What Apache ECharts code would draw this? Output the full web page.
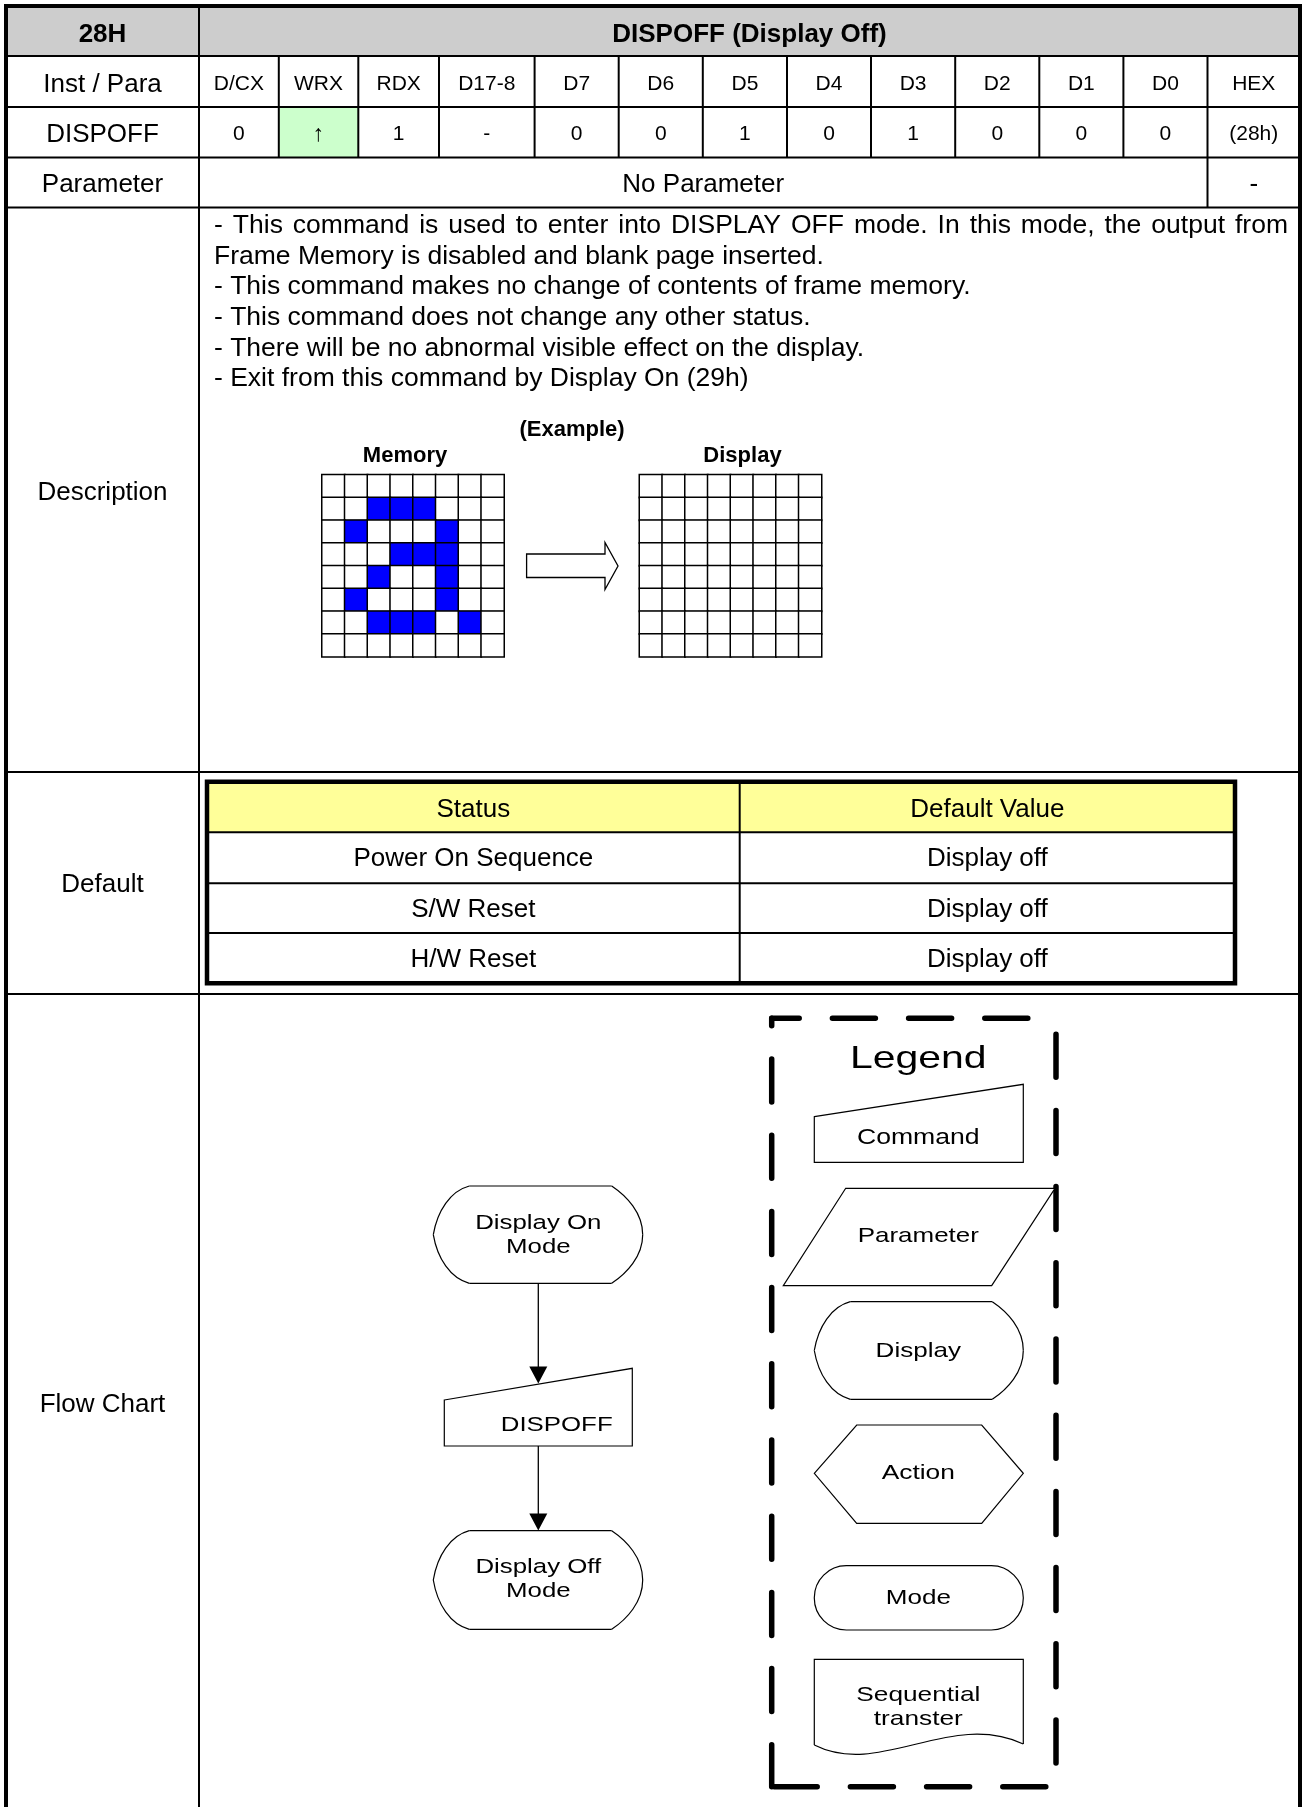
<!DOCTYPE html>
<html><head><meta charset="utf-8">
<script src="https://cdn.jsdelivr.net/npm/echarts@6/dist/echarts.min.js"></script>
<style>html,body{margin:0;padding:0;background:#fff}#c{width:1302px;height:1807px}</style>
</head><body><div id="c"></div>
<script>
// ---------------- data ----------------
const headerCode = '28H';
const headerTitle = 'DISPOFF (Display Off)';
const rowLabels = ['Inst / Para', 'DISPOFF', 'Parameter', 'Description', 'Default', 'Flow Chart'];
const bitHeaders = ['D/CX', 'WRX', 'RDX', 'D17-8', 'D7', 'D6', 'D5', 'D4', 'D3', 'D2', 'D1', 'D0', 'HEX'];
const bitValues = ['0', '\u2191', '1', '-', '0', '0', '1', '0', '1', '0', '0', '0', '(28h)'];
const parameterText = 'No Parameter';
const parameterHex = '-';
const descriptionLines = [
  '- This command is used to enter into DISPLAY OFF mode. In this mode, the output from',
  'Frame Memory is disabled and blank page inserted.',
  '- This command makes no change of contents of frame memory.',
  '- This command does not change any other status.',
  '- There will be no abnormal visible effect on the display.',
  '- Exit from this command by Display On (29h)'
];
const exampleLabels = ['(Example)', 'Memory', 'Display'];
const gridCols = ['0', '1', '2', '3', '4', '5', '6', '7'];
const gridRows = ['0', '1', '2', '3', '4', '5', '6', '7'];
const memoryPattern = [
  [0, 0, 0, 0, 0, 0, 0, 0],
  [0, 0, 1, 1, 1, 0, 0, 0],
  [0, 1, 0, 0, 0, 1, 0, 0],
  [0, 0, 0, 1, 1, 1, 0, 0],
  [0, 0, 1, 0, 0, 1, 0, 0],
  [0, 1, 0, 0, 0, 1, 0, 0],
  [0, 0, 1, 1, 1, 0, 1, 0],
  [0, 0, 0, 0, 0, 0, 0, 0]
];
const displayPattern = [
  [0, 0, 0, 0, 0, 0, 0, 0],
  [0, 0, 0, 0, 0, 0, 0, 0],
  [0, 0, 0, 0, 0, 0, 0, 0],
  [0, 0, 0, 0, 0, 0, 0, 0],
  [0, 0, 0, 0, 0, 0, 0, 0],
  [0, 0, 0, 0, 0, 0, 0, 0],
  [0, 0, 0, 0, 0, 0, 0, 0],
  [0, 0, 0, 0, 0, 0, 0, 0]
];
const defaultHeaders = ['Status', 'Default Value'];
const defaultStatus = ['Power On Sequence', 'S/W Reset', 'H/W Reset'];
const defaultValues = ['Display off', 'Display off', 'Display off'];
const flowSteps = [['Display On', 'Mode'], ['DISPOFF'], ['Display Off', 'Mode']];
const legendTitle = 'Legend';
const legendItems = [['Command'], ['Parameter'], ['Display'], ['Action'], ['Mode'], ['Sequential', 'transter']];

// ---------------- layout ----------------
const FONT = '"Liberation Sans", Arial, Helvetica, sans-serif';
const els = [];
function line(x1, y1, x2, y2, w, extra) {
  els.push({ type: 'line', silent: true, shape: { x1, y1, x2, y2 },
    style: Object.assign({ stroke: '#000', lineWidth: w }, extra || {}) });
}
function rect(x, y, w, h, fill, stroke, lw, r) {
  els.push({ type: 'rect', silent: true, shape: { x, y, width: w, height: h, r: r || 0 },
    style: { fill: fill || null, stroke: stroke || null, lineWidth: lw || 0 } });
}
function poly(points, fill, lw) {
  els.push({ type: 'polygon', silent: true, shape: { points },
    style: { fill: fill, stroke: lw ? '#000' : null, lineWidth: lw || 0 } });
}
function pline(points, lw) {
  els.push({ type: 'polyline', silent: true, shape: { points }, style: { fill: null, stroke: '#000', lineWidth: lw } });
}
function bez(x1, y1, c1x, c1y, c2x, c2y, x2, y2, lw) {
  els.push({ type: 'bezierCurve', silent: true,
    shape: { x1, y1, cpx1: c1x, cpy1: c1y, cpx2: c2x, cpy2: c2y, x2, y2 },
    style: { fill: null, stroke: '#000', lineWidth: lw || 1.2 } });
}
function text(t, x, y, size, opt) {
  opt = opt || {};
  els.push({ type: 'text', silent: true, x, y, scaleX: opt.sx || 1, z: 10,
    style: { text: t, x: 0, y: 0, fill: '#000', fontSize: size, fontFamily: opt.family || FONT,
      fontWeight: opt.bold ? 'bold' : 'normal', align: opt.align || 'center', verticalAlign: 'middle' } });
}

// main table geometry
const L = 6, R = 1300, T = 6, B = 1807;
const C1 = 199;
const colX = [199, 278.8, 358.3, 439, 534.6, 618.7, 702.8, 787, 871, 955.2, 1039.3, 1123.4, 1207.5, 1300];
const rowY = [6, 56, 107, 157.5, 207.5, 772, 994];
const labelX = (L + C1) / 2;

// fills
rect(L, T, R - L, rowY[1] - T, '#cdcdcd');
rect(colX[1], rowY[2], colX[2] - colX[1], rowY[3] - rowY[2], '#ccffcc');

// horizontal lines
for (let i = 1; i < rowY.length; i++) line(L, rowY[i], R, rowY[i], 2);
// vertical
line(C1, T, C1, B, 2);
for (let i = 1; i < colX.length - 1; i++) line(colX[i], rowY[1], colX[i], rowY[3], 2);
line(colX[12], rowY[3], colX[12], rowY[4], 2);
// outer border
line(L, T, R, T, 4); line(L, T - 2, L, B, 4); line(R, T - 2, R, B, 4);

// header texts
text(headerCode, labelX, 34.5, 26, { bold: true });
text(headerTitle, (C1 + R) / 2, 34.5, 26, { bold: true });
// row labels
const labelY = [84.5, 135, 185, 492.5, 884.5, 1405];
rowLabels.forEach((t, i) => text(t, labelX, labelY[i], 26));
bitHeaders.forEach((t, i) => text(t, (colX[i] + colX[i + 1]) / 2, 84, 21));
bitValues.forEach((t, i) => text(t, (colX[i] + colX[i + 1]) / 2, 134.5, i === 1 ? 23 : 21));
text(parameterText, (C1 + colX[12]) / 2, 185, 26);
text(parameterHex, (colX[12] + R) / 2, 185, 26);

// description lines
const descX = 214, descRight = 1288, descSize = 26.5;
const descY = [226, 257, 287, 318, 349, 379];
const mctx = document.createElement('canvas').getContext('2d');
mctx.font = descSize + 'px ' + FONT;
descriptionLines.forEach((t, i) => {
  if (i === 0) {
    const words = t.split(' ');
    const widths = words.map(w => mctx.measureText(w).width);
    const sum = widths.reduce((a, b) => a + b, 0);
    const gap = (descRight - descX - sum) / (words.length - 1);
    let x = descX;
    words.forEach((w, k) => { text(w, x, descY[i], descSize, { align: 'left' }); x += widths[k] + gap; });
  } else {
    text(t, descX, descY[i], descSize, { align: 'left' });
  }
});
text(exampleLabels[0], 572, 429.5, 22, { bold: true });
text(exampleLabels[1], 405, 456, 22, { bold: true });
text(exampleLabels[2], 742.5, 456, 22, { bold: true });
// block arrow
poly([[526.6, 554], [605, 554], [605, 542.5], [618, 566], [605, 589.5], [605, 577.5], [526.6, 577.5]], '#fff', 1.3);

// default inner table
const dL = 207, dR = 1235, dT = 781.7, dB = 983.3, dMid = 739.7;
const dRows = [781.7, 832.3, 883.3, 933, 983.3];
rect(dL, dT, dR - dL, dRows[1] - dT, '#ffff99');
for (let i = 1; i < 4; i++) line(dL, dRows[i], dR, dRows[i], 2);
line(dMid, dT, dMid, dB, 2);
rect(dL, dT, dR - dL, dB - dT, null, '#000', 4.5);
text(defaultHeaders[0], (dL + dMid) / 2, 810, 26);
text(defaultHeaders[1], (dMid + dR) / 2, 810, 26);
defaultStatus.forEach((t, i) => {
  const cy = (dRows[i + 1] + dRows[i + 2]) / 2 + 1.5;
  text(t, (dL + dMid) / 2, cy, 26);
  text(defaultValues[i], (dMid + dR) / 2, cy, 26);
});

// flow chart shapes
const FS = 20.5, SX = 1.26;
function displayShape(lx, ty, w, h) {
  const cy = ty + h / 2, by = ty + h, tl = lx + 36, tr = lx + w - 31, rx = lx + w;
  line(tl, ty, tr, ty, 1.2); line(tl, by, tr, by, 1.2);
  bez(tl, ty, tl - 19, ty + 5, lx + 4, ty + 25, lx, cy);
  bez(lx, cy, lx + 4, by - 25, tl - 19, by - 5, tl, by);
  bez(tr, ty, tr + 15, ty + 10, rx, ty + 27, rx, cy);
  bez(rx, cy, rx, by - 27, tr + 15, by - 10, tr, by);
}
function arrowDown(x, y1, y2) {
  line(x, y1, x, y2 - 16, 1.3);
  poly([[x - 9, y2 - 17], [x + 9, y2 - 17], [x, y2]], '#000', 0);
}
const fx = 538.3;
displayShape(433.3, 1186, 209.4, 97.3);
text(flowSteps[0][0], fx, 1223.8, FS, { sx: SX });
text(flowSteps[0][1], fx, 1247.8, FS, { sx: SX });
arrowDown(fx, 1283.3, 1383.5);
poly([[444.3, 1400], [632.3, 1368.3], [632.3, 1446], [444.3, 1446]], '#fff', 1.2);
text(flowSteps[1][0], 556.7, 1425, FS, { sx: SX });
arrowDown(fx, 1446, 1530.5);
displayShape(433.3, 1530.7, 209.4, 98.6);
text(flowSteps[2][0], fx, 1567.2, FS, { sx: SX });
text(flowSteps[2][1], fx, 1591.2, FS, { sx: SX });

// legend box (dashed)
const gL = 771.7, gR = 1056, gT = 1018.3, gB = 1786.7;
const dashStyle = off => ({ lineDash: [43, 33.2], lineDashOffset: off, lineCap: 'round' });
line(gL, gT, gR, gT, 5.5, dashStyle(15.5));
line(gR, gT, gR, gB, 5.5, dashStyle(60.3));
line(gL, gB, gR, gB, 5.5, dashStyle(73.7));
line(gL, gT, gL, gB, 5.5, dashStyle(35.5));
const lx = 918.3;
text(legendTitle, lx, 1059, 32, { sx: 1.28 });
// command
poly([[814.3, 1116.7], [1023.3, 1084.3], [1023.3, 1162.3], [814.3, 1162.3]], '#fff', 1.2);
text(legendItems[0][0], lx, 1138.5, 21.5, { sx: 1.237 });
// parameter
poly([[845.7, 1188.3], [1055, 1188.3], [991.7, 1285.7], [783.3, 1285.7]], '#fff', 1.2);
text(legendItems[1][0], lx, 1236.5, 21, { sx: 1.235 });
// display
displayShape(814.3, 1301.7, 209, 97.6);
text(legendItems[2][0], lx, 1351, 21, { sx: 1.24 });
// action
poly([[814.3, 1473.3], [856.7, 1425], [981.7, 1425], [1023.3, 1473.3], [981.7, 1523.3], [856.7, 1523.3]], '#fff', 1.2);
text(legendItems[3][0], lx, 1473.5, 21, { sx: 1.255 });
// mode
rect(814.3, 1565.7, 209, 64.3, '#fff', '#000', 1.2, 32);
text(legendItems[4][0], lx, 1597.8, 21, { sx: 1.24 });
// sequential transfer (document shape)
pline([[814.3, 1745], [814.3, 1659.3], [1023.3, 1659.3], [1023.3, 1744]], 1.2);
bez(814.3, 1745, 880, 1778, 950, 1710, 1023.3, 1744, 1.2);
text(legendItems[5][0], lx, 1695.5, 21, { sx: 1.25 });
text(legendItems[5][1], lx, 1718.8, 21, { sx: 1.25 });

// ---------------- chart ----------------
function cells(pattern) {
  const out = [];
  pattern.forEach((row, r) => row.forEach((v, c) => out.push([c, r, v])));
  return out;
}
const chart = echarts.init(document.getElementById('c'), null, { renderer: 'canvas', width: 1302, height: 1807 });
chart.setOption({
  animation: false,
  backgroundColor: '#fff',
  grid: [
    { left: 322, top: 474.7, width: 182, height: 182 },
    { left: 639.5, top: 474.7, width: 182, height: 182 }
  ],
  xAxis: [0, 1].map(i => ({ type: 'category', gridIndex: i, data: gridCols, show: false })),
  yAxis: [0, 1].map(i => ({ type: 'category', gridIndex: i, data: gridRows, inverse: true, show: false })),
  visualMap: {
    type: 'piecewise', show: false, dimension: 2, seriesIndex: [0, 1],
    pieces: [{ value: 0, color: '#ffffff' }, { value: 1, color: '#0000ff' }]
  },
  series: [
    { type: 'heatmap', xAxisIndex: 0, yAxisIndex: 0, data: cells(memoryPattern), silent: true,
      itemStyle: { borderColor: '#000', borderWidth: 1.5 }, emphasis: { disabled: true } },
    { type: 'heatmap', xAxisIndex: 1, yAxisIndex: 1, data: cells(displayPattern), silent: true,
      itemStyle: { borderColor: '#000', borderWidth: 1.5 }, emphasis: { disabled: true } }
  ],
  graphic: { elements: els }
});
</script>
</body></html>
